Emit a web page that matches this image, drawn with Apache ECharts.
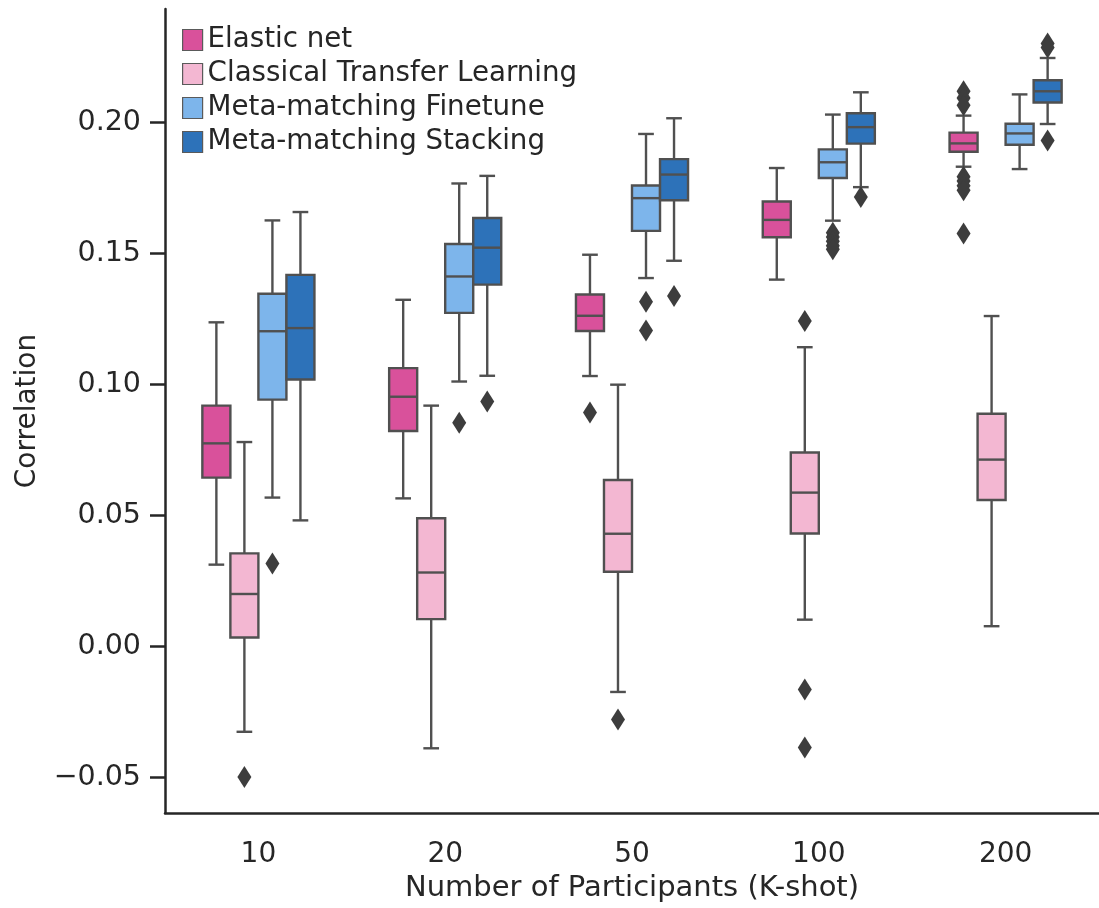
<!DOCTYPE html>
<html><head><meta charset="utf-8">
<script src="https://cdn.jsdelivr.net/npm/echarts@6/dist/echarts.min.js"></script>
<style>html,body{margin:0;padding:0;background:#fff}#main{width:1099px;height:908px}</style>
</head><body><div id="main"></div>
<script>
// ---------------- data ----------------
const categories = ['10', '20', '50', '100', '200'];
const seriesNames = ['Elastic net', 'Classical Transfer Learning', 'Meta-matching Finetune', 'Meta-matching Stacking'];
// each entry: [lower whisker, Q1, median, Q3, upper whisker]
const elasticNet = [
  [0.0311, 0.0643, 0.0774, 0.0918, 0.1236],
  [0.0564, 0.0821, 0.0952, 0.1061, 0.1322],
  [0.1031, 0.1203, 0.1261, 0.1342, 0.1494],
  [0.1399, 0.1561, 0.1627, 0.1697, 0.1825],
  [0.1830, 0.1887, 0.1919, 0.1960, 0.2025]
];
const classicalTL = [
  [-0.0327, 0.0033, 0.0199, 0.0354, 0.0779],
  [-0.0390, 0.0103, 0.0281, 0.0488, 0.0918],
  [-0.0175, 0.0284, 0.0429, 0.0634, 0.0998],
  [0.0101, 0.0430, 0.0586, 0.0739, 0.1141],
  [0.0076, 0.0558, 0.0712, 0.0887, 0.1260]
];
const mmFinetune = [
  [0.0567, 0.0941, 0.1202, 0.1345, 0.1625],
  [0.1010, 0.1272, 0.1411, 0.1535, 0.1766],
  [0.1405, 0.1585, 0.1710, 0.1758, 0.1955],
  [0.1624, 0.1787, 0.1847, 0.1896, 0.2029],
  [0.1821, 0.1914, 0.1957, 0.1994, 0.2106]
];
const mmStacking = [
  [0.0480, 0.1018, 0.1214, 0.1417, 0.1657],
  [0.1032, 0.1380, 0.1521, 0.1634, 0.1795],
  [0.1471, 0.1702, 0.1800, 0.1859, 0.2015],
  [0.1752, 0.1918, 0.1981, 0.2034, 0.2114],
  [0.1993, 0.2075, 0.2118, 0.2160, 0.2245]
];
// outliers per category
const elasticNetOut = [[], [], [0.0892], [], [0.2118, 0.2092, 0.2065, 0.1792, 0.1775, 0.1757, 0.1740, 0.1575]];
const classicalTLOut = [[-0.0500], [], [-0.0280], [0.1241, -0.0166, -0.0387], []];
const mmFinetuneOut = [[0.0315], [0.0853], [0.1315, 0.1205], [0.1578, 0.1562, 0.1545, 0.1528, 0.1515], []];
const mmStackingOut = [[], [0.0934], [0.1336], [0.1714], [0.2300, 0.2285, 0.1930]];
const yTicks = [-0.05, 0.00, 0.05, 0.10, 0.15, 0.20];

// ---------------- style ----------------
const fills = ['#d9519b', '#f3b7d2', '#7db5eb', '#2d72b9'];
const LINE = '#505050';
const INK = '#262626';
const FONT = 'DejaVu Sans';
const LW = 2.4;

function boxSeries(name, stats, hue) {
  return {
    type: 'custom', name: name, coordinateSystem: 'cartesian2d', clip: false,
    itemStyle: { color: fills[hue], borderColor: LINE, borderWidth: 1.5 },
    encode: { x: 0, y: [1, 2, 3, 4, 5] },
    data: stats.map((s, i) => [i].concat(s)),
    renderItem: function (params, api) {
      const cat = api.value(0);
      const band = api.size([1, 0])[0];
      const w = band * 0.15;
      const cx = api.coord([cat, 0])[0] + (hue - 1.5) * w;
      const y = k => api.coord([cat, api.value(k)])[1];
      const yl = y(1), yq1 = y(2), ym = y(3), yq3 = y(4), yh = y(5);
      const cap = w * 0.28;
      const ls = { stroke: LINE, lineWidth: LW };
      return { type: 'group', children: [
        { type: 'line', shape: { x1: cx, y1: yq3, x2: cx, y2: yh }, style: ls },
        { type: 'line', shape: { x1: cx, y1: yq1, x2: cx, y2: yl }, style: ls },
        { type: 'line', shape: { x1: cx - cap, y1: yh, x2: cx + cap, y2: yh }, style: ls },
        { type: 'line', shape: { x1: cx - cap, y1: yl, x2: cx + cap, y2: yl }, style: ls },
        { type: 'rect', shape: { x: cx - w / 2, y: yq3, width: w, height: yq1 - yq3 },
          style: { fill: fills[hue], stroke: LINE, lineWidth: LW } },
        { type: 'line', shape: { x1: cx - w / 2, y1: ym, x2: cx + w / 2, y2: ym }, style: ls }
      ]};
    }
  };
}

function outlierSeries(name, outs, hue) {
  const data = [];
  outs.forEach((arr, i) => arr.forEach(v => data.push([i, v])));
  return {
    type: 'custom', name: name + ' outliers', coordinateSystem: 'cartesian2d', clip: false,
    itemStyle: { color: '#3d3d3d' },
    encode: { x: 0, y: 1 },
    data: data,
    renderItem: function (params, api) {
      const cat = api.value(0);
      const band = api.size([1, 0])[0];
      const w = band * 0.15;
      const cx = api.coord([cat, 0])[0] + (hue - 1.5) * w;
      const cy = api.coord([cat, api.value(1)])[1];
      return { type: 'polygon',
        shape: { points: [[cx, cy - 11], [cx + 7, cy], [cx, cy + 11], [cx - 7, cy]] },
        style: { fill: '#3d3d3d' } };
    }
  };
}

const chart = echarts.init(document.getElementById('main'), null, { renderer: 'canvas' });
chart.setOption({
  animation: false,
  backgroundColor: '#ffffff',
  grid: { left: 165, right: -2.6, top: 9, bottom: 94, containLabel: false },
  legend: {
    data: seriesNames, orient: 'vertical', left: 177, top: 21,
    icon: 'rect', itemWidth: 20, itemHeight: 21, itemGap: 6,
    itemStyle: { borderColor: '#5a5a5a', borderWidth: 1.2 },
    textStyle: { fontSize: 27.7, fontFamily: FONT, color: INK }
  },
  xAxis: {
    type: 'category', data: categories, boundaryGap: true,
    axisLine: { onZero: false, lineStyle: { color: INK, width: 2.5 } },
    axisTick: { alignWithLabel: true, length: 15, lineStyle: { color: INK, width: 2.5 } },
    axisLabel: { fontSize: 28, fontFamily: FONT, color: INK, margin: 28 },
    name: 'Number of Participants (K-shot)', nameLocation: 'middle', nameGap: 61,
    nameTextStyle: { fontSize: 29, fontFamily: FONT, color: INK }
  },
  yAxis: {
    type: 'value', min: -0.0637, max: 0.2432, splitLine: { show: false },
    axisLine: { show: true, lineStyle: { color: INK, width: 2.5 } },
    axisTick: { show: true, length: 15, customValues: yTicks, lineStyle: { color: INK, width: 2.5 } },
    axisLabel: {
      customValues: yTicks, fontSize: 28.5, fontFamily: FONT, color: INK, margin: 24,
      formatter: v => (v < -1e-9 ? '\u2212' : '') + Math.abs(v).toFixed(2)
    },
    name: 'Correlation', nameLocation: 'middle', nameGap: 123,
    nameTextStyle: { fontSize: 28, fontFamily: FONT, color: INK }
  },
  series: [
    boxSeries(seriesNames[0], elasticNet, 0),
    boxSeries(seriesNames[1], classicalTL, 1),
    boxSeries(seriesNames[2], mmFinetune, 2),
    boxSeries(seriesNames[3], mmStacking, 3),
    outlierSeries(seriesNames[0], elasticNetOut, 0),
    outlierSeries(seriesNames[1], classicalTLOut, 1),
    outlierSeries(seriesNames[2], mmFinetuneOut, 2),
    outlierSeries(seriesNames[3], mmStackingOut, 3)
  ]
});
</script>
</body></html>
